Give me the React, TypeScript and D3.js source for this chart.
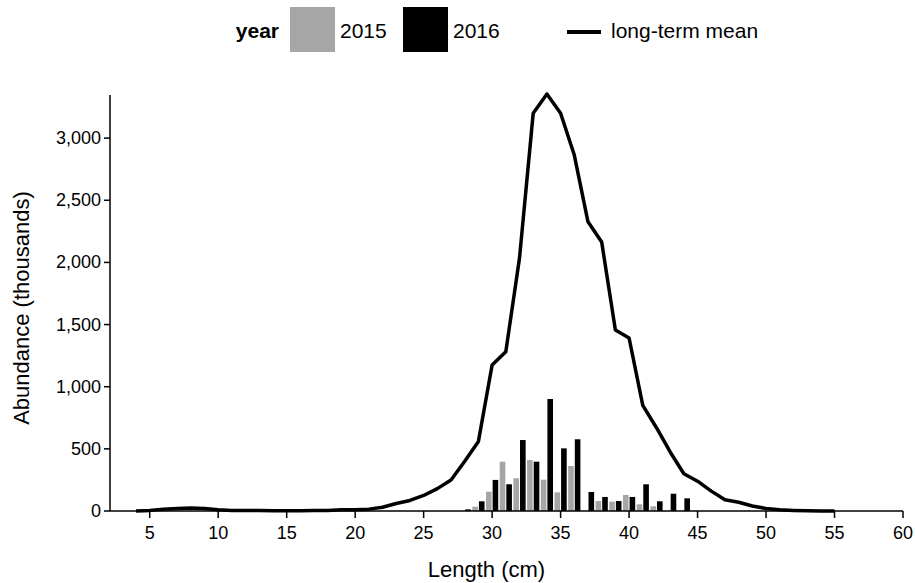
import React from "react";
import * as d3 from "d3";

// length classes (cm) for survey bars
const barLengths = [28, 29, 30, 31, 32, 33, 34, 35, 36, 37, 38, 39, 40, 41, 42, 43, 44];
const abund2015 = [0, 35, 155, 397, 263, 410, 252, 150, 362, 0, 80, 75, 129, 54, 38, 0, 0];
const abund2016 = [13, 78, 250, 215, 571, 397, 901, 504, 577, 153, 113, 80, 113, 215, 78, 139, 102];

// long-term mean
const meanLengths = [4, 5, 6, 7, 8, 9, 10, 11, 12, 13, 14, 15, 16, 17, 18, 19, 20, 21, 22, 23, 24, 25, 26, 27, 28, 29, 30, 31, 32, 33, 34, 35, 36, 37, 38, 39, 40, 41, 42, 43, 44, 45, 46, 47, 48, 49, 50, 51, 52, 53, 54, 55];
const meanValues = [0, 5, 15, 20, 25, 20, 10, 5, 5, 5, 3, 3, 3, 5, 5, 10, 10, 15, 30, 60, 85, 125, 180, 250, 400, 560, 1175, 1282, 2035, 3200, 3355, 3200, 2864, 2327, 2164, 1456, 1392, 850, 670, 475, 300, 240, 160, 90, 70, 40, 20, 10, 5, 2, 0, 0];

const xTicks = [5, 10, 15, 20, 25, 30, 35, 40, 45, 50, 55, 60];
const yTicks = [0, 500, 1000, 1500, 2000, 2500, 3000];

const W = 915;
const H = 583;
const left = 110, right = 903, top = 95, bottom = 511;
const font = "Arial, 'Liberation Sans', sans-serif";

export default function App() {
  const x = d3.scaleLinear().domain([2.1, 60]).range([left, right]);
  const y = d3.scaleLinear().domain([0, 3347]).range([bottom, top]);
  const bw = (x(1) - x(0)) * 0.41;
  const line = d3
    .line<number>()
    .x((_, i) => x(meanLengths[i]))
    .y((d) => y(d));
  const fmt = d3.format(",");

  return (
    <svg width={W} height={H} style={{ position: "absolute", left: 0, top: 0, background: "#fff" }} fontFamily={font}>
      {/* legend */}
      <text x={279} y={38} fontSize={21} fontWeight="bold" textAnchor="end">year</text>
      <rect x={290} y={7} width={45} height={45} fill="#a6a6a6" />
      <text x={340} y={38} fontSize={21}>2015</text>
      <rect x={403} y={7} width={45} height={45} fill="#000" />
      <text x={453} y={38} fontSize={21}>2016</text>
      <line x1={567} x2={601} y1={32} y2={32} stroke="#000" strokeWidth={4} />
      <text x={611} y={38} fontSize={21}>long-term mean</text>

      {barLengths.map((l, i) => (
        <g key={l}>
          {abund2015[i] > 0 && (
            <rect x={x(l) - bw - 0.5} y={y(abund2015[i])} width={bw} height={bottom - y(abund2015[i])} fill="#a6a6a6" />
          )}
          {abund2016[i] > 0 && (
            <rect x={x(l) + 0.5} y={y(abund2016[i])} width={bw} height={bottom - y(abund2016[i])} fill="#000" />
          )}
        </g>
      ))}

      <path d={line(meanValues) ?? ""} fill="none" stroke="#000" strokeWidth={3.5} strokeLinejoin="round" />

      {/* axes */}
      <line x1={left} x2={left} y1={top} y2={bottom} stroke="#000" strokeWidth={1.5} />
      <line x1={left} x2={right} y1={bottom} y2={bottom} stroke="#000" strokeWidth={1.5} />
      {yTicks.map((t) => (
        <g key={t}>
          <line x1={left - 6} x2={left} y1={y(t)} y2={y(t)} stroke="#000" strokeWidth={1.5} />
          <text x={left - 9} y={y(t) + 6} fontSize={18} textAnchor="end">{fmt(t)}</text>
        </g>
      ))}
      {xTicks.map((t) => (
        <g key={t}>
          <line x1={x(t)} x2={x(t)} y1={bottom} y2={bottom + 7} stroke="#000" strokeWidth={1.5} />
          <text x={x(t)} y={bottom + 28} fontSize={18} textAnchor="middle">{t}</text>
        </g>
      ))}
      <text x={(left + right) / 2 - 20} y={577} fontSize={22} textAnchor="middle">Length (cm)</text>
      <text transform={`translate(29,${(top + bottom) / 2 + 5}) rotate(-90)`} fontSize={22} textAnchor="middle">Abundance (thousands)</text>
    </svg>
  );
}
